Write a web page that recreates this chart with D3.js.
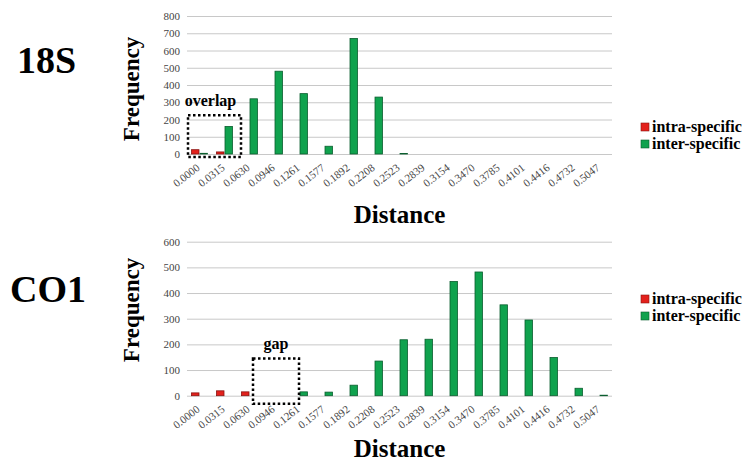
<!DOCTYPE html>
<html>
<head>
<meta charset="utf-8">
<script src="https://cdn.jsdelivr.net/npm/d3@7"></script>
<style>
  body { margin: 0; background: #fff; }
  svg { font-family: "Liberation Serif", "Times New Roman", serif; }
</style>
</head>
<body>
<div id="chart"></div>
<script>
// distance classes shared by both panels
var distances = ['0.0000', '0.0315', '0.0630', '0.0946', '0.1261', '0.1577', '0.1892', '0.2208',
    '0.2523', '0.2839', '0.3154', '0.3470', '0.3785', '0.4101', '0.4416', '0.4732', '0.5047'];

var intra18S = [25, 12, 0, 0, 0, 0, 0, 0, 0, 0, 0, 0, 0, 0, 0, 0, 0];
var inter18S = [4, 160, 320, 480, 350, 45, 670, 330, 3, 0, 0, 0, 0, 0, 0, 0, 0];
var ticks18S = [0, 100, 200, 300, 400, 500, 600, 700, 800];

var intraCO1 = [11, 19, 15, 0, 0, 0, 0, 0, 0, 0, 0, 0, 0, 0, 0, 0, 0];
var interCO1 = [0, 0, 0, 0, 15, 14, 41, 135, 218, 220, 445, 482, 354, 295, 149, 29, 2];
var ticksCO1 = [0, 100, 200, 300, 400, 500, 600];

var seriesNames = ['intra-specific', 'inter-specific'];
var colors = { 'intra-specific': '#e3211c', 'inter-specific': '#10a24e' };
var strokes = { 'intra-specific': '#8a1412', 'inter-specific': '#0b5e2f' };

var W = 755, H = 464;
var svg = d3.select('#chart').append('svg').attr('width', W).attr('height', H);

function panel(opt) {
    var g = svg.append('g');
    var x = d3.scaleBand().domain(distances).range([187, 612]).paddingInner(0.32).paddingOuter(0.16);
    var x1 = d3.scaleBand().domain(seriesNames).range([0, x.bandwidth()]);
    var y = d3.scaleLinear().domain([0, opt.max]).range([opt.bottom, opt.top]);

    // gridlines
    g.append('g').selectAll('line').data(opt.ticks).join('line')
        .attr('x1', 187).attr('x2', 612)
        .attr('y1', d => y(d) + 0.5).attr('y2', d => y(d) + 0.5)
        .style('stroke', '#c8c8c8').style('stroke-width', 1);

    // y tick labels
    g.append('g').selectAll('text').data(opt.ticks).join('text')
        .attr('x', 180).attr('y', d => y(d) + 4)
        .attr('text-anchor', 'end')
        .style('font-size', '11px').style('fill', '#444')
        .text(d => d);

    // bars
    var rows = [];
    distances.forEach((c, i) => {
        rows.push({ cat: c, s: 'intra-specific', v: opt.intra[i] });
        rows.push({ cat: c, s: 'inter-specific', v: opt.inter[i] });
    });
    g.append('g').selectAll('rect').data(rows.filter(d => d.v > 0)).join('rect')
        .attr('x', d => x(d.cat) + x1(d.s) + 0.5)
        .attr('width', x1.bandwidth() - 1)
        .attr('y', d => y(d.v))
        .attr('height', d => y(0) - y(d.v))
        .style('fill', d => colors[d.s])
        .style('stroke', d => strokes[d.s])
        .style('stroke-width', 0.8);

    // rotated x tick labels
    g.append('g').selectAll('text').data(distances).join('text')
        .attr('text-anchor', 'end')
        .attr('transform', d => 'translate(' + (x(d) + x.bandwidth() / 2 + 1) + ',' + (opt.bottom + 15) + ') rotate(-38)')
        .style('font-size', '11px').style('fill', '#4a4a4a')
        .text(d => d);

    // axis titles
    g.append('text')
        .attr('transform', `translate(${opt.freqX},${opt.freqY}) rotate(-90)`)
        .attr('text-anchor', 'middle')
        .style('font-size', '23px').style('font-weight', 'bold')
        .text('Frequency');
    g.append('text')
        .attr('x', 399.5).attr('y', opt.distY)
        .attr('text-anchor', 'middle')
        .style('font-size', '25px').style('font-weight', 'bold')
        .text('Distance');

    // panel name
    g.append('text')
        .attr('x', opt.nameX).attr('y', opt.nameY)
        .style('font-size', '38px').style('font-weight', 'bold')
        .text(opt.name);

    // legend
    var lg = g.append('g').attr('transform', `translate(641,${opt.legY})`);
    seriesNames.forEach((s, i) => {
        lg.append('rect').attr('x', 0).attr('y', i * 17 - 5).attr('width', 8).attr('height', 8)
            .style('fill', colors[s]).style('stroke', strokes[s]).style('stroke-width', 0.6);
        lg.append('text').attr('x', 11).attr('y', i * 17 + 4)
            .style('font-size', '16px').style('font-weight', 'bold')
            .text(s);
    });

    // dotted annotation box
    var b = opt.box;
    var bx0 = x(distances[b.from]) + x.step() * b.dx0;
    var bx1 = x(distances[b.to]) + x.step() * b.dx1;
    g.append('rect')
        .attr('x', bx0).attr('y', y(b.top))
        .attr('width', bx1 - bx0).attr('height', y(0) + b.below - y(b.top))
        .style('fill', 'none').style('stroke', '#000')
        .style('stroke-width', 2.5).style('stroke-dasharray', '2.5,2.5');
    g.append('text')
        .attr('x', (bx0 + bx1) / 2 + b.labelDx).attr('y', y(b.top) - b.labelGap)
        .attr('text-anchor', 'middle')
        .style('font-size', '16px').style('font-weight', 'bold')
        .text(b.label);
}

panel({
    name: '18S', nameX: 17, nameY: 73,
    intra: intra18S, inter: inter18S, ticks: ticks18S, max: 800,
    top: 16, bottom: 154,
    freqX: 139, freqY: 89, distY: 223, legY: 128,
    box: { from: 0, to: 1, dx0: -0.12, dx1: 1.0, top: 225, below: 3, label: 'overlap', labelDx: -4, labelGap: 9 }
});

panel({
    name: 'CO1', nameX: 10, nameY: 302,
    intra: intraCO1, inter: interCO1, ticks: ticksCO1, max: 600,
    top: 241.7, bottom: 395.7,
    freqX: 139, freqY: 310, distY: 457, legY: 300,
    box: { from: 2, to: 4, dx0: 0.48, dx1: 0.32, top: 145, below: 8, label: 'gap', labelDx: 0, labelGap: 9 }
});
</script>
</body>
</html>
